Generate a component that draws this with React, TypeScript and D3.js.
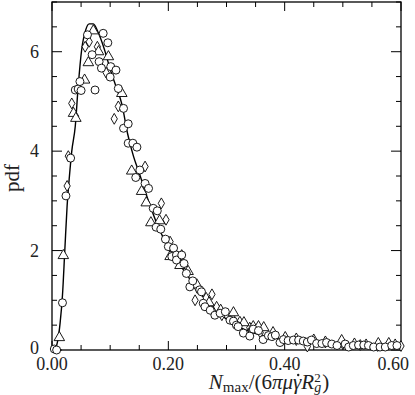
import React, { useEffect, useRef } from 'react';
import * as d3 from 'd3';

// solid curve (fit)
const curveX = [0, 0.005, 0.01, 0.014, 0.018, 0.022, 0.026, 0.03, 0.034, 0.04, 0.045, 0.051, 0.058, 0.064, 0.071, 0.08, 0.09, 0.1, 0.11, 0.12, 0.13, 0.14, 0.15, 0.16, 0.17, 0.18, 0.19, 0.2, 0.21, 0.22, 0.23, 0.24, 0.25, 0.26, 0.27, 0.28, 0.29, 0.3, 0.32, 0.34, 0.36, 0.38, 0.4, 0.45, 0.5, 0.55, 0.6];
const curveY = [0, 0.02, 0.2, 0.55, 1.1, 2.0, 2.9, 3.5, 4.0, 4.5, 5.3, 6.04, 6.44, 6.56, 6.56, 6.37, 6.05, 5.65, 5.3, 4.95, 4.35, 3.9, 3.56, 3.2, 2.86, 2.55, 2.29, 2.03, 1.85, 1.7, 1.55, 1.37, 1.2, 1.07, 0.95, 0.84, 0.72, 0.62, 0.47, 0.37, 0.3, 0.25, 0.2, 0.14, 0.1, 0.07, 0.05];

// open circles
const circleX = [0.004, 0.008, 0.018, 0.024, 0.032, 0.04, 0.045, 0.05, 0.048, 0.061, 0.069, 0.074, 0.081, 0.085, 0.088, 0.096, 0.1, 0.101, 0.11, 0.114, 0.123, 0.123, 0.131, 0.131, 0.139, 0.146, 0.144, 0.151, 0.16, 0.166, 0.174, 0.181, 0.179, 0.187, 0.195, 0.2, 0.206, 0.209, 0.214, 0.214, 0.223, 0.227, 0.231, 0.237, 0.242, 0.254, 0.257, 0.26, 0.263, 0.272, 0.28, 0.289, 0.298, 0.306, 0.312, 0.317, 0.32, 0.329, 0.34, 0.346, 0.355, 0.363, 0.372, 0.378, 0.384, 0.392, 0.398, 0.406, 0.415, 0.424, 0.432, 0.439, 0.446, 0.455, 0.464, 0.472, 0.481, 0.49, 0.504, 0.51, 0.518, 0.527, 0.536, 0.544, 0.553, 0.564, 0.573, 0.584, 0.593];
const circleY = [0.02, 0.0, 0.95, 3.1, 3.86, 5.23, 5.25, 5.22, 5.4, 6.34, 5.94, 5.23, 5.8, 5.67, 6.37, 6.18, 5.49, 5.7, 5.63, 5.26, 4.86, 4.46, 4.55, 4.16, 4.16, 4.08, 3.47, 3.62, 3.35, 3.25, 2.85, 2.8, 2.47, 2.43, 2.23, 2.08, 1.88, 2.05, 1.91, 1.81, 1.91, 1.74, 1.54, 1.27, 1.39, 1.21, 1.17, 0.94, 0.87, 0.8, 0.7, 0.74, 0.77, 0.6, 0.58, 0.5, 0.47, 0.34, 0.28, 0.42, 0.39, 0.21, 0.29, 0.27, 0.3, 0.15, 0.21, 0.19, 0.2, 0.2, 0.18, 0.16, 0.2, 0.13, 0.13, 0.15, 0.12, 0.09, 0.12, 0.06, 0.09, 0.1, 0.1, 0.09, 0.06, 0.06, 0.06, 0.09, 0.09];

// open triangles
const triX = [0.0126, 0.0195, 0.037, 0.041, 0.056, 0.0625, 0.071, 0.08, 0.097, 0.12, 0.137, 0.154, 0.162, 0.17, 0.185, 0.203, 0.22, 0.234, 0.249, 0.27, 0.29, 0.312, 0.33, 0.346, 0.355, 0.364, 0.38, 0.401, 0.42, 0.45, 0.47, 0.498, 0.52, 0.54, 0.561, 0.579, 0.59];
const triY = [0.25, 1.9, 4.76, 4.66, 5.43, 5.78, 6.42, 6.0, 5.9, 5.16, 3.6, 3.19, 2.96, 2.56, 2.6, 1.88, 1.7, 1.58, 1.31, 0.95, 0.8, 0.75, 0.55, 0.47, 0.47, 0.45, 0.35, 0.25, 0.22, 0.2, 0.16, 0.19, 0.12, 0.1, 0.13, 0.13, 0.1];

// open diamonds
const diaX = [0.026, 0.028, 0.034, 0.057, 0.064, 0.078, 0.093, 0.107, 0.114, 0.16, 0.188, 0.196, 0.203, 0.223, 0.246, 0.25, 0.265, 0.275, 0.283, 0.292, 0.31, 0.323, 0.34, 0.358, 0.38, 0.42, 0.439, 0.47, 0.5, 0.53, 0.56, 0.6];
const diaY = [3.3, 3.9, 4.96, 6.1, 6.2, 6.1, 5.58, 4.65, 4.9, 3.69, 2.95, 2.62, 2.18, 1.91, 1.0, 1.25, 1.05, 1.12, 0.87, 0.7, 0.65, 0.57, 0.45, 0.35, 0.3, 0.2, 0.07, 0.15, 0.12, 0.1, 0.08, 0.08];

const xMajor = [0, 0.2, 0.4, 0.6];
const xMinor = d3.range(0, 0.6001, 0.05);
const yMajor = [0, 2, 4, 6];
const yMinor = d3.range(0, 7.001, 0.5);

const W = 415;
const H = 395;
const FONT = "'Liberation Serif', serif";
const INK = '#222';

const Chart = () => {
  const svgRef = useRef<SVGSVGElement>(null);

  useEffect(() => {
    const svg = d3.select(svgRef.current);
    svg.selectAll('*').remove();

    const left = 52, right = 401, top = 2, bottom = 350;
    const x = d3.scaleLinear().domain([0, 0.6]).range([left, right]);
    const y = d3.scaleLinear().domain([0, 7]).range([bottom, top]);

    const g = svg.append('g');

    // ticks inward on all four sides
    const isMajorX = (v: number) => xMajor.some(m => Math.abs(m - v) < 1e-6);
    const isMajorY = (v: number) => yMajor.some(m => Math.abs(m - v) < 1e-6);
    xMinor.forEach(v => {
      const len = isMajorX(v) ? 9 : 5;
      g.append('line').attr('x1', x(v)).attr('x2', x(v)).attr('y1', bottom).attr('y2', bottom - len)
        .attr('stroke', '#000').attr('stroke-width', 1);
      g.append('line').attr('x1', x(v)).attr('x2', x(v)).attr('y1', top).attr('y2', top + len)
        .attr('stroke', '#000').attr('stroke-width', 1);
    });
    yMinor.forEach(v => {
      const len = isMajorY(v) ? 10 : 5;
      g.append('line').attr('x1', left).attr('x2', left + len).attr('y1', y(v)).attr('y2', y(v))
        .attr('stroke', '#000').attr('stroke-width', 1);
      g.append('line').attr('x1', right).attr('x2', right - len).attr('y1', y(v)).attr('y2', y(v))
        .attr('stroke', '#000').attr('stroke-width', 1);
    });

    // frame
    g.append('rect').attr('x', left).attr('y', top).attr('width', right - left).attr('height', bottom - top)
      .attr('fill', 'none').attr('stroke', '#000').attr('stroke-width', 1.3);

    // tick labels (last one kept inside the figure)
    g.selectAll('.xl').data(xMajor).enter().append('text')
      .attr('x', (d, i) => (i === xMajor.length - 1 ? W - 6 : x(d))).attr('y', bottom + 20)
      .attr('text-anchor', (d, i) => (i === xMajor.length - 1 ? 'end' : 'middle'))
      .attr('font-family', FONT).attr('font-size', 18).attr('fill', INK)
      .text(d => d3.format('.2f')(d));
    g.selectAll('.yl').data(yMajor).enter().append('text')
      .attr('x', left - 13).attr('y', d => y(d) + (d === 0 ? 4 : 6))
      .attr('text-anchor', 'end').attr('font-family', FONT).attr('font-size', 18).attr('fill', INK)
      .text(d => String(d));

    // curve
    const line = d3.line<number>().x((d, i) => x(curveX[i])).y(d => y(d)).curve(d3.curveMonotoneX);
    g.append('path').datum(curveY).attr('d', line).attr('fill', 'none').attr('stroke', '#000').attr('stroke-width', 1.4);

    // markers
    const mk = { fill: '#fff', stroke: '#000', sw: 0.9 };
    g.selectAll('.dia').data(diaX).enter().append('path')
      .attr('d', d3.symbol().type(d3.symbolDiamond).size(34)())
      .attr('transform', (d, i) => `translate(${x(d)},${y(diaY[i])})`)
      .attr('fill', mk.fill).attr('stroke', mk.stroke).attr('stroke-width', mk.sw);
    g.selectAll('.tri').data(triX).enter().append('path')
      .attr('d', d3.symbol().type(d3.symbolTriangle).size(48)())
      .attr('transform', (d, i) => `translate(${x(d)},${y(triY[i])})`)
      .attr('fill', mk.fill).attr('stroke', mk.stroke).attr('stroke-width', mk.sw);
    g.selectAll('.cir').data(circleX).enter().append('circle')
      .attr('cx', d => x(d)).attr('cy', (d, i) => y(circleY[i])).attr('r', 4)
      .attr('fill', mk.fill).attr('stroke', mk.stroke).attr('stroke-width', mk.sw);

    // y title
    g.append('text').attr('transform', `translate(19,178) rotate(-90)`)
      .attr('text-anchor', 'middle').attr('font-family', FONT).attr('font-size', 21).attr('fill', INK)
      .text('pdf');

    // x title, laid out piece by piece
    const base = 389;
    const parts: { s: string; it?: boolean; fs: number; dy: number; dx?: number; stack?: boolean }[] = [
      { s: 'N', it: true, fs: 21, dy: 0 },
      { s: 'max', fs: 15, dy: 3 },
      { s: '/(6', fs: 21, dy: 0 },
      { s: 'πμγ', it: true, fs: 21, dy: 0 },
      { s: 'R', it: true, fs: 21, dy: 0 },
      { s: 'g', it: true, fs: 14, dy: 3 },
      { s: '2', fs: 13, dy: -7, stack: true },
      { s: ')', fs: 21, dy: 0, dx: 1 },
    ];
    const tg = g.append('g');
    let cx = 0;
    let prevX = 0;
    let dotX = 0;
    parts.forEach(p => {
      const px = p.stack ? prevX : cx + (p.dx || 0);
      const el = tg.append('text').attr('x', px).attr('y', base + p.dy)
        .attr('font-family', FONT).attr('font-size', p.fs).attr('fill', INK)
        .attr('font-style', p.it ? 'italic' : 'normal').text(p.s);
      const w = (el.node() as SVGTextElement).getComputedTextLength();
      if (p.s === 'πμγ') {
        const probe = tg.append('text').attr('font-family', FONT).attr('font-size', 21).attr('font-style', 'italic')
          .attr('visibility', 'hidden').text('γ');
        const gw = (probe.node() as SVGTextElement).getComputedTextLength();
        probe.remove();
        dotX = px + w - gw / 2 + 1;
      }
      if (!p.stack) { prevX = px; cx = px + w; } else { cx = Math.max(cx, px + w); prevX = px; }
    });
    // dot accent over gamma
    tg.append('circle').attr('cx', dotX).attr('cy', base - 14).attr('r', 1.2).attr('fill', INK);
    tg.attr('transform', `translate(${269 - cx / 2},0)`);
  }, []);

  return <svg ref={svgRef} width={W} height={H} style={{ position: 'absolute', left: 0, top: 0, background: '#fff' }} />;
};

export default function App() {
  return <Chart />;
}
